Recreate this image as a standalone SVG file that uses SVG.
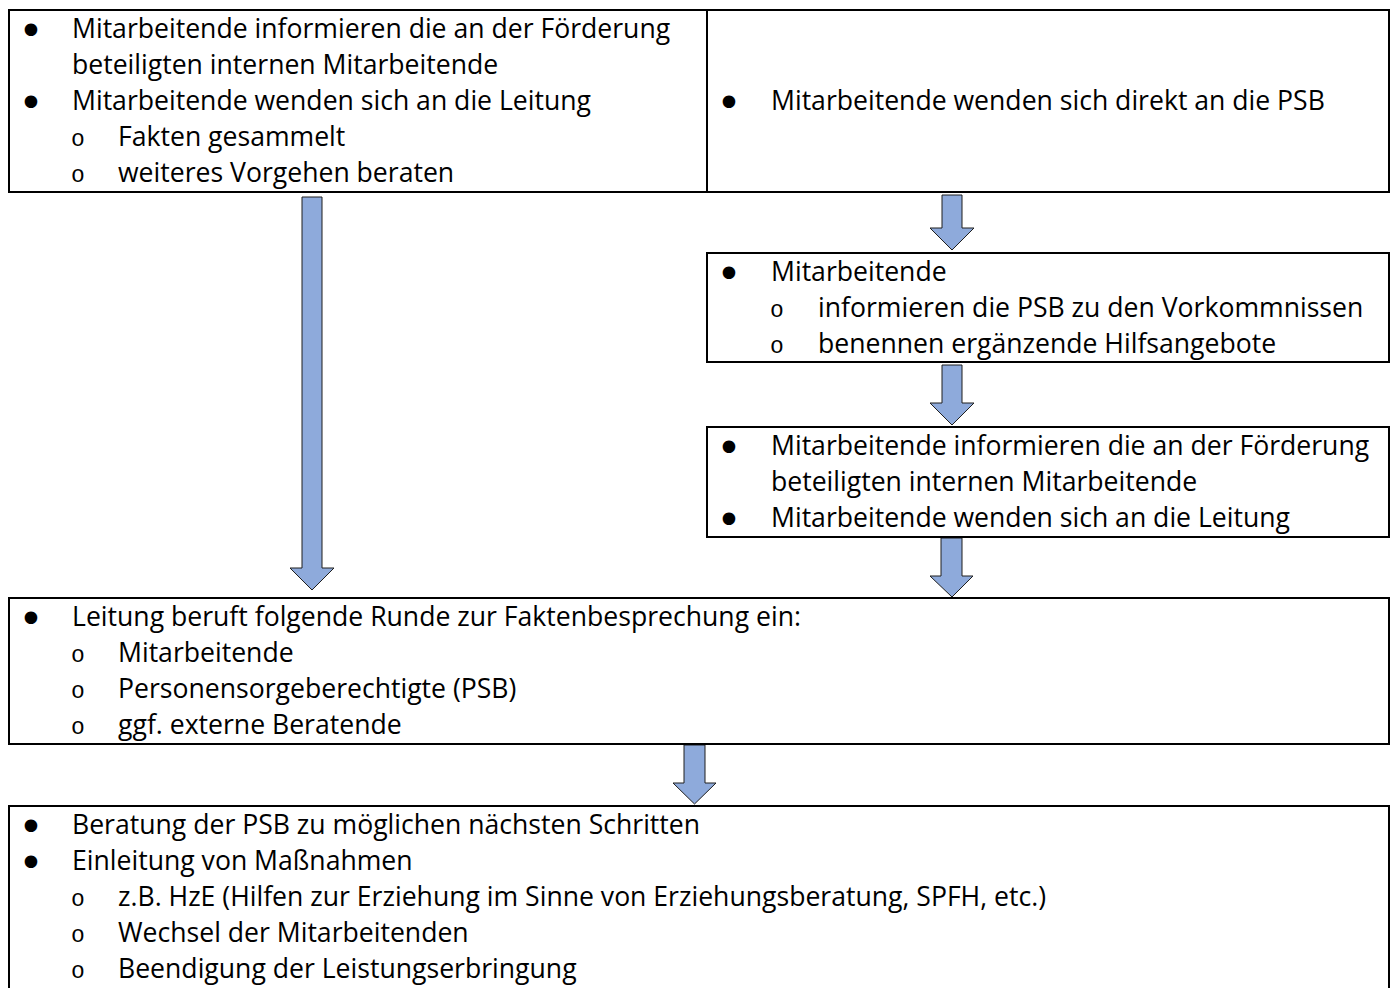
<svg xmlns="http://www.w3.org/2000/svg" width="1393" height="988" viewBox="0 0 1393 988">
<style>
.box{fill:#fff;stroke:#000;stroke-width:2}
.t{font-family:"Open Sans","Liberation Sans",sans-serif;font-size:26.6px;fill:#000}
.b{font-family:"DejaVu Sans",sans-serif;font-size:16.5px;fill:#000;text-anchor:middle}
.o{font-family:"Liberation Mono","Courier New",monospace;font-size:23px;fill:#000}
.arr{fill:#8eaadb;stroke:#1f1f1f;stroke-width:1}
</style>
<rect width="1393" height="988" fill="#fff"/>
<g id="connectors">
<polygon class="arr" points="302,197 322,197 322,568 334,568 312,590 290,568 302,568"/>
<polygon class="arr" points="942,195 962,195 962,228 974,228 952,250 930,228 942,228"/>
<polygon class="arr" points="942,365 962,365 962,403 974,403 952,425 930,403 942,403"/>
<polygon class="arr" points="941,538 962,538 962,576 973,576 952,597 930,576 941,576"/>
<polygon class="arr" points="684,745 705,745 705,783 716,783 694.5,804 673,783 684,783"/>
</g>
<g id="nodeA">
<rect class="box" x="9" y="10" width="698" height="182"/>
<text class="b" x="31" y="34">●</text><text class="t" x="72" y="38">Mitarbeitende informieren die an der Förderung</text>
<text class="t" x="72" y="74">beteiligten internen Mitarbeitende</text>
<text class="b" x="31" y="106">●</text><text class="t" x="72" y="110">Mitarbeitende wenden sich an die Leitung</text>
<text class="o" x="71" y="146">o</text><text class="t" x="118" y="146">Fakten gesammelt</text>
<text class="o" x="71" y="182">o</text><text class="t" x="118" y="182">weiteres Vorgehen beraten</text>
</g>
<g id="nodeB">
<rect class="box" x="707" y="10" width="682" height="182"/>
<text class="b" x="729" y="106">●</text><text class="t" x="771" y="110">Mitarbeitende wenden sich direkt an die PSB</text>
</g>
<g id="nodeC">
<rect class="box" x="707" y="253" width="682" height="109"/>
<text class="b" x="729" y="277">●</text><text class="t" x="771" y="281">Mitarbeitende</text>
<text class="o" x="770" y="317">o</text><text class="t" x="818" y="317">informieren die PSB zu den Vorkommnissen</text>
<text class="o" x="770" y="353">o</text><text class="t" x="818" y="353">benennen ergänzende Hilfsangebote</text>
</g>
<g id="nodeD">
<rect class="box" x="707" y="427" width="682" height="110"/>
<text class="b" x="729" y="451">●</text><text class="t" x="771" y="455">Mitarbeitende informieren die an der Förderung</text>
<text class="t" x="771" y="491">beteiligten internen Mitarbeitende</text>
<text class="b" x="729" y="523">●</text><text class="t" x="771" y="527">Mitarbeitende wenden sich an die Leitung</text>
</g>
<g id="nodeE">
<rect class="box" x="9" y="598" width="1380" height="146"/>
<text class="b" x="31" y="622">●</text><text class="t" x="72" y="626">Leitung beruft folgende Runde zur Faktenbesprechung ein:</text>
<text class="o" x="71" y="662">o</text><text class="t" x="118" y="662">Mitarbeitende</text>
<text class="o" x="71" y="698">o</text><text class="t" x="118" y="698">Personensorgeberechtigte (PSB)</text>
<text class="o" x="71" y="734">o</text><text class="t" x="118" y="734">ggf. externe Beratende</text>
</g>
<g id="nodeF">
<rect class="box" x="9" y="806" width="1380" height="200"/>
<text class="b" x="31" y="830">●</text><text class="t" x="72" y="834">Beratung der PSB zu möglichen nächsten Schritten</text>
<text class="b" x="31" y="866">●</text><text class="t" x="72" y="870">Einleitung von Maßnahmen</text>
<text class="o" x="71" y="906">o</text><text class="t" x="118" y="906">z.B. HzE (Hilfen zur Erziehung im Sinne von Erziehungsberatung, SPFH, etc.)</text>
<text class="o" x="71" y="942">o</text><text class="t" x="118" y="942">Wechsel der Mitarbeitenden</text>
<text class="o" x="71" y="978">o</text><text class="t" x="118" y="978">Beendigung der Leistungserbringung</text>
</g>
</svg>
